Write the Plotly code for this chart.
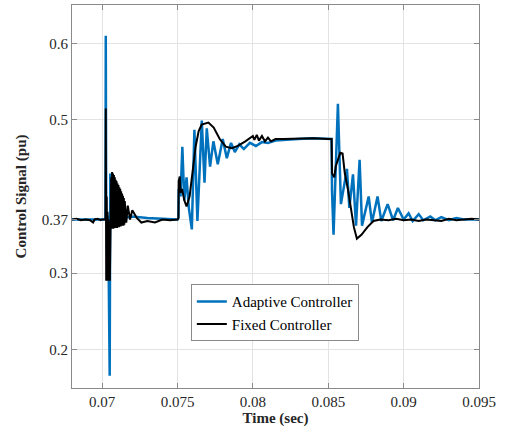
import plotly.graph_objects as go

# ---------------- data ----------------
t_adaptive = [0.0680, 0.0690, 0.0700, 0.07022, 0.07024, 0.07027, 0.07040, 0.07050, 0.07054,
              0.07060, 0.07066, 0.07072, 0.07080, 0.07090, 0.07110, 0.07150, 0.07200, 0.07300,
              0.07400, 0.07500, 0.07506, 0.07508, 0.07520, 0.07532, 0.07545, 0.07560, 0.07575,
              0.07595, 0.07612, 0.07632, 0.07661, 0.07679, 0.07694, 0.07716, 0.07738, 0.07767,
              0.07800, 0.07827, 0.07855, 0.07880, 0.07910, 0.07940, 0.07980, 0.08020, 0.08060,
              0.08100, 0.08150, 0.08200, 0.08300, 0.08400, 0.08500, 0.08522, 0.08525, 0.08535,
              0.08564, 0.08584, 0.08624, 0.08640, 0.08664, 0.08684, 0.08708, 0.08724, 0.08768,
              0.08790, 0.08827, 0.08852, 0.08894, 0.08930, 0.08962, 0.09000, 0.09033, 0.09060,
              0.09100, 0.09130, 0.09177, 0.09210, 0.09250, 0.09300, 0.09350, 0.09400, 0.09500]
v_adaptive = [0.370, 0.370, 0.370, 0.370, 0.610, 0.380, 0.370, 0.166, 0.430,
              0.372, 0.395, 0.365, 0.385, 0.368, 0.375, 0.372, 0.374, 0.372,
              0.371, 0.370, 0.372, 0.410, 0.400, 0.465, 0.395, 0.425, 0.385,
              0.357, 0.487, 0.368, 0.499, 0.418, 0.489, 0.439, 0.472, 0.442,
              0.475, 0.450, 0.470, 0.458, 0.468, 0.462, 0.470, 0.466, 0.471,
              0.470, 0.473, 0.474, 0.475, 0.476, 0.475, 0.475, 0.407, 0.350,
              0.521, 0.390, 0.436, 0.385, 0.429, 0.362, 0.448, 0.362, 0.400,
              0.366, 0.400, 0.368, 0.390, 0.369, 0.385, 0.370, 0.378, 0.368,
              0.377, 0.369, 0.374, 0.369, 0.373, 0.369, 0.372, 0.370, 0.370]

t_fixed = [0.0680, 0.0683, 0.0686, 0.0689, 0.0692, 0.0694, 0.0695, 0.0697, 0.0699, 0.0700,
           0.07022, 0.07024, 0.07027, 0.07030, 0.07033, 0.07036, 0.07039, 0.07042, 0.07045,
           0.07048, 0.07051, 0.07054, 0.07057, 0.07060, 0.07063, 0.07066, 0.07069, 0.07072,
           0.07075, 0.07078, 0.07081, 0.07084, 0.07087, 0.07090, 0.07093, 0.07096, 0.07099,
           0.07102, 0.07105, 0.07108, 0.07111, 0.07114, 0.07117, 0.07120, 0.07123, 0.07126,
           0.07129, 0.07132, 0.07135, 0.07138, 0.07141, 0.07144, 0.07147, 0.07150,
           0.07160, 0.07170, 0.07185, 0.07200, 0.07230, 0.07260, 0.07300, 0.07350, 0.07400,
           0.07450, 0.07500, 0.07506, 0.07508, 0.07515, 0.07520, 0.07530, 0.07545, 0.07560,
           0.07580, 0.07600, 0.07620, 0.07640, 0.07660, 0.07705, 0.07740, 0.07780, 0.07820,
           0.07860, 0.07900, 0.07950, 0.07980, 0.08000, 0.08010, 0.08026, 0.08040, 0.08060,
           0.08080, 0.08100, 0.08120, 0.08150, 0.08200, 0.08300, 0.08400, 0.08500, 0.08522,
           0.08525, 0.08540, 0.08550, 0.08580, 0.08595, 0.08610, 0.08630, 0.08650, 0.08670,
           0.08690, 0.08720, 0.08760, 0.08800, 0.08845, 0.08900, 0.08950, 0.09000, 0.09050,
           0.09100, 0.09150, 0.09200, 0.09250, 0.09300, 0.09350, 0.09400, 0.09450, 0.09500]
v_fixed = [0.370, 0.371, 0.369, 0.370, 0.369, 0.366, 0.370, 0.371, 0.369, 0.370,
           0.370, 0.515, 0.290, 0.400, 0.290, 0.380, 0.290, 0.370, 0.290,
           0.360, 0.290, 0.370, 0.360, 0.425, 0.358, 0.432, 0.360, 0.430,
           0.358, 0.428, 0.360, 0.425, 0.359, 0.422, 0.360, 0.420, 0.359,
           0.417, 0.360, 0.415, 0.360, 0.412, 0.361, 0.410, 0.361, 0.407,
           0.362, 0.404, 0.362, 0.401, 0.362, 0.398, 0.363, 0.394,
           0.366, 0.388, 0.370, 0.382, 0.372, 0.366, 0.368, 0.366, 0.370,
           0.369, 0.370, 0.372, 0.420, 0.426, 0.405, 0.410, 0.395, 0.387,
           0.400, 0.430, 0.465, 0.485, 0.494, 0.4965, 0.490, 0.475, 0.465,
           0.463, 0.466, 0.472, 0.476, 0.479, 0.474, 0.4805, 0.473, 0.479,
           0.472, 0.477, 0.472, 0.475, 0.475, 0.4755, 0.476, 0.475, 0.475,
           0.430, 0.425, 0.440, 0.457, 0.456, 0.430, 0.410, 0.385, 0.360,
           0.345, 0.350, 0.360, 0.368, 0.370, 0.369, 0.371, 0.369, 0.370,
           0.368, 0.370, 0.369, 0.368, 0.371, 0.369, 0.370, 0.371, 0.370]

x_ticks = [0.07, 0.075, 0.08, 0.085, 0.09, 0.095]
x_tick_labels = ["0.07", "0.075", "0.08", "0.085", "0.09", "0.095"]
y_ticks = [0.2, 0.3, 0.37, 0.5, 0.6]
y_tick_labels = ["0.2", "0.3", "0.37", "0.5", "0.6"]

# ---------------- figure ----------------
font_family = "Liberation Serif"
text_color = "#262626"
fig = go.Figure()
fig.add_trace(go.Scatter(x=t_adaptive, y=v_adaptive, mode="lines", name="Adaptive Controller",
                         line=dict(color="#0072BD", width=2.5)))
fig.add_trace(go.Scatter(x=t_fixed, y=v_fixed, mode="lines", name="Fixed Controller",
                         line=dict(color="black", width=2)))

axis_common = dict(showline=True, linecolor="#8a8a8a", linewidth=1, mirror="ticks",
                   ticks="inside", ticklen=5, tickcolor="#8a8a8a",
                   showgrid=True, gridcolor="#e3e3e3", gridwidth=1, zeroline=False,
                   automargin=False,
                   tickfont=dict(family=font_family, size=15, color=text_color))

fig.update_layout(
    width=515, height=439,
    margin=dict(l=72, r=36, t=5, b=51),
    paper_bgcolor="white", plot_bgcolor="white",
    font=dict(family=font_family, size=15, color=text_color),
    xaxis=dict(range=[0.068, 0.095], tickvals=x_ticks, ticktext=x_tick_labels,
               title=dict(text="<b>Time (sec)</b>", font=dict(family=font_family, size=15, color=text_color),
                          standoff=0),
               **axis_common),
    yaxis=dict(range=[0.15, 0.65], tickvals=y_ticks, ticktext=y_tick_labels,
               title=dict(text="<b>Control Signal (pu)</b>", font=dict(family=font_family, size=15, color=text_color),
                          standoff=11),
               **axis_common),
    legend=dict(x=0.292, y=0.271, xanchor="left", yanchor="top",
                bgcolor="white", bordercolor="#8a8a8a", borderwidth=1,
                font=dict(family=font_family, size=15, color="black"),
                tracegroupgap=0, itemwidth=30),
    showlegend=True,
)

fig.write_html("out.html", config={"displayModeBar": False},
               post_script="document.body.style.margin='0px';")
